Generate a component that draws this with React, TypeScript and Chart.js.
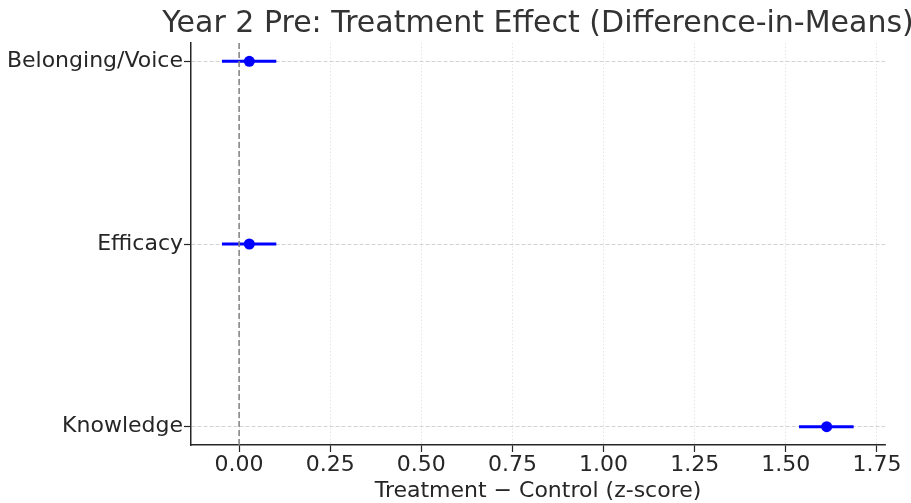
import React, { useEffect, useRef } from "react";
import { Chart, registerables } from "chart.js";

Chart.register(...registerables);

const titleText = "Year 2 Pre: Treatment Effect (Difference-in-Means)";
const xAxisLabel = "Treatment \u2212 Control (z-score)";
const categories = ["Belonging/Voice", "Efficacy", "Knowledge"];
const estimates = [0.028, 0.028, 1.612];
const ciLower = [-0.047, -0.047, 1.536];
const ciUpper = [0.102, 0.102, 1.686];
const xTicks = [0, 0.25, 0.5, 0.75, 1.0, 1.25, 1.5, 1.75];
const xMin = -0.132;
const xMax = 1.772;

const FONT = "'DejaVu Sans', sans-serif";
const TEXT = "#262626";

const titlePlugin = {
  id: "axesTitle",
  afterDraw(chart: any) {
    const { ctx, chartArea } = chart;
    ctx.save();
    ctx.font = `30px ${FONT}`;
    ctx.fillStyle = "#333333";
    ctx.textAlign = "center";
    ctx.textBaseline = "alphabetic";
    ctx.fillText(titleText, (chartArea.left + chartArea.right) / 2, 32);
    ctx.restore();
  },
};

export default function App() {
  const ref = useRef<HTMLCanvasElement | null>(null);

  useEffect(() => {
    if (!ref.current) return;
    const datasets: any[] = [];
    datasets.push({
      type: "line",
      data: [
        { x: 0, y: -0.1 },
        { x: 0, y: 2.1 },
      ],
      borderColor: "#808080",
      borderWidth: 1.5,
      borderDash: [6, 3],
      pointRadius: 0,
      fill: false,
    });
    categories.forEach((_, i) => {
      datasets.push({
        type: "line",
        data: [
          { x: ciLower[i], y: i },
          { x: ciUpper[i], y: i },
        ],
        borderColor: "#0000ff",
        borderWidth: 3,
        pointRadius: 0,
        fill: false,
      });
    });
    datasets.push({
      type: "scatter",
      data: categories.map((_, i) => ({ x: estimates[i], y: i })),
      backgroundColor: "#0000ff",
      borderColor: "#0000ff",
      pointRadius: 5.5,
      borderWidth: 0,
    });

    const chart = new Chart(ref.current, {
      type: "scatter",
      data: { datasets },
      plugins: [titlePlugin],
      options: {
        responsive: false,
        animation: false,
        layout: { padding: { top: 43, right: 26, left: 0, bottom: 0 } },
        plugins: {
          legend: { display: false },
          tooltip: { enabled: false },
          title: { display: false },
        },
        scales: {
          x: {
            type: "linear",
            min: xMin,
            max: xMax,
            afterFit: (s: any) => {
              s.height = 58;
            },
            afterBuildTicks: (s: any) => {
              s.ticks = xTicks.map((v) => ({ value: v }));
            },
            ticks: {
              includeBounds: false,
              color: TEXT,
              font: { family: FONT, size: 22 },
              padding: 0,
              maxRotation: 0,
              callback: (v: any) => Number(v).toFixed(2),
            },
            grid: {
              color: "#e0e0e0",
              lineWidth: 0.8,
              tickColor: TEXT,
              tickWidth: 1.2,
              tickLength: 7,
            },
            border: { display: true, color: TEXT, width: 1.5, dash: [1.5, 2] },
            title: {
              display: true,
              text: xAxisLabel,
              color: TEXT,
              font: { family: FONT, size: 22 },
              padding: { top: 0, bottom: -1 },
            },
          },
          y: {
            type: "linear",
            min: -0.1,
            max: 2.1,
            reverse: true,
            afterFit: (s: any) => {
              s.width = 191;
            },
            afterBuildTicks: (s: any) => {
              s.ticks = categories.map((_, i) => ({ value: i }));
            },
            ticks: {
              color: TEXT,
              font: { family: FONT, size: 22 },
              padding: 1,
              callback: (v: any) => categories[Math.round(Number(v))] ?? "",
            },
            grid: {
              color: "#c8c8c8",
              lineWidth: 0.8,
              tickColor: TEXT,
              tickWidth: 1.2,
              tickLength: 7,
            },
            border: { display: true, color: TEXT, width: 1.5, dash: [4, 2] },
          },
        },
      },
    } as any);
    return () => chart.destroy();
  }, []);

  return (
    <div style={{ position: "fixed", left: 0, top: 0, width: 911, height: 503, background: "#fff" }}>
      <canvas ref={ref} width={911} height={503} style={{ display: "block" }} />
    </div>
  );
}
